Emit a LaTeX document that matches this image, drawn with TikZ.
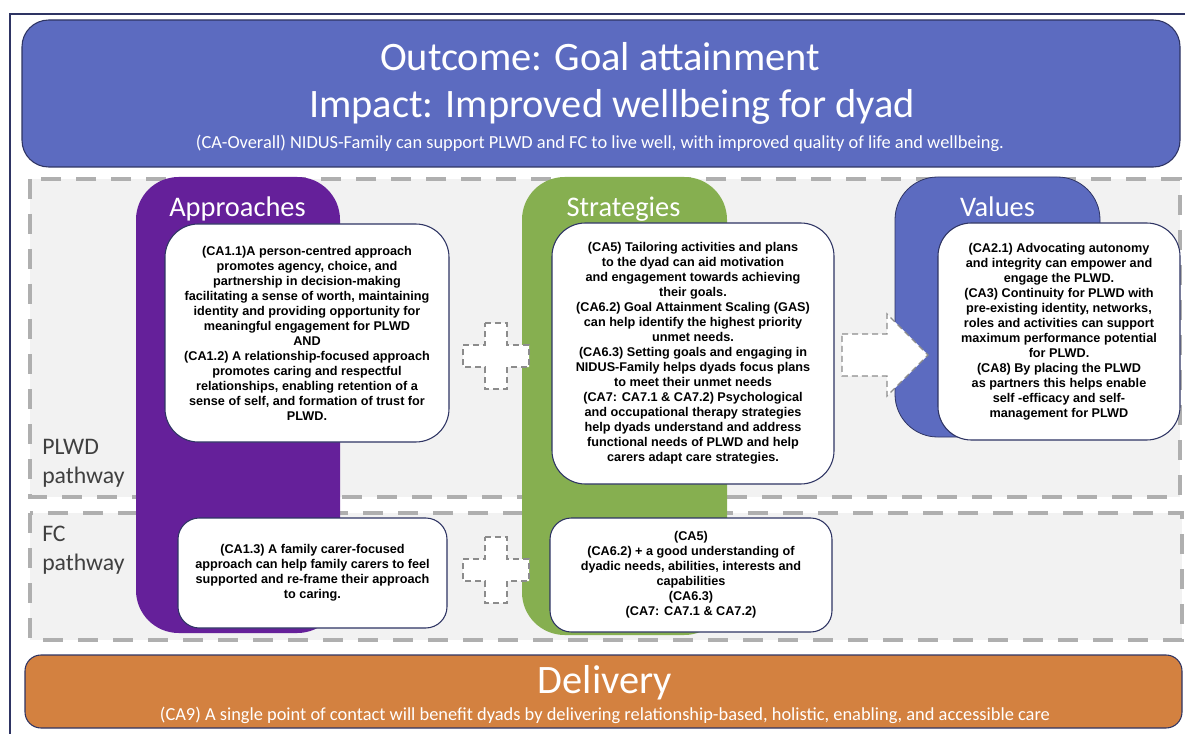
\documentclass[tikz,border=0pt]{standalone}
\usepackage{fontspec}
\setmainfont{Liberation Sans}
\newfontfamily\calfont{Carlito}
\definecolor{bannerblue}{HTML}{5C6BC0}
\definecolor{colpurple}{HTML}{65209A}
\definecolor{colgreen}{HTML}{86AF50}
\definecolor{colorange}{HTML}{D38140}
\definecolor{navyline}{HTML}{2E3463}
\definecolor{regionfill}{HTML}{F2F2F2}
\definecolor{dashgray}{HTML}{AFAFAF}
\definecolor{labelgray}{HTML}{404040}
\definecolor{shapegray}{HTML}{8C8C8C}
\newcommand\bodyfont{\bfseries\fontsize{9.5}{11.25}\selectfont}
\begin{document}
\begin{tikzpicture}[x=0.75pt,y=-0.75pt,
  region/.style={draw=dashgray, line width=3pt, dash pattern=on 15pt off 11.25pt, fill=regionfill},
  banner/.style={draw=navyline, line width=0.8pt, rounded corners=20pt, inner sep=0pt},
  column/.style={rounded corners=32pt, inner sep=0pt},
  tbox/.style={draw=navyline, line width=0.8pt, fill=white, rounded corners=25pt, align=center, font=\bodyfont, text=black, inner sep=0pt},
  fcbox/.style={tbox, rounded corners=16pt},
  heading/.style={text=white, anchor=base, inner sep=0pt, font=\calfont\fontsize{21.3}{25}\selectfont},
  bigtitle/.style={text=white, anchor=base, inner sep=0pt, font=\calfont\fontsize{30.3}{36}\selectfont},
  subtitle/.style={text=white, anchor=base, inner sep=0pt, font=\calfont\fontsize{13.8}{16}\selectfont},
  pathlabel/.style={text=labelgray, anchor=base west, inner sep=0pt, align=left, font=\calfont\fontsize{17.8}{21.5}\selectfont},
  dshape/.style={draw=shapegray, line width=1pt, dash pattern=on 4.5pt off 3pt, fill=white}
]
\useasboundingbox (0,0) rectangle (1185,734);
% outer frame
\draw[navyline, line width=0.8pt] (10,740) -- (10,14) -- (1190,14);

% top banner
\node[banner, fill=bannerblue, minimum width=868.5pt, minimum height=110.25pt] (top) at (601,93.5) {};
\node[bigtitle] (outcome) at (600,71) {Outcome: Goal attainment};
\node[bigtitle] (impact) at (612,118) {Impact: Improved wellbeing for dyad};
\node[subtitle] (overall) at (600,149) {(CA-Overall) NIDUS-Family can support PLWD and FC to live well, with improved quality of life and wellbeing.};

% pathway regions
\draw[region] (30,179) rectangle (1180,497);
\draw[region] (30,513) rectangle (1182,640);
\node[pathlabel] (plwd) at (42,483) {PLWD\\pathway};
\node[pathlabel] (fc) at (42,570) {FC\\pathway};

% columns
\node[column, fill=colpurple, minimum width=153pt, minimum height=342pt] (apcol) at (238,405) {};
\node[column, fill=colgreen, minimum width=153.75pt, minimum height=343.5pt] (stcol) at (624.5,406) {};
\node[column, fill=bannerblue, draw=navyline, line width=0.6pt, minimum width=153.75pt, minimum height=195pt] (vacol) at (997.5,307) {};
\node[heading] (aphead) at (237.5,217) {Approaches};
\node[heading] (sthead) at (623.5,217) {Strategies};
\node[heading] (vahead) at (997.5,217) {Values};

% plus signs
\begin{scope}[shift={(496,356)}]
\draw[dshape] (-11,-33) -- (11,-33) -- (11,-11) -- (33,-11) -- (33,11) -- (11,11) -- (11,33) -- (-11,33) -- (-11,11) -- (-33,11) -- (-33,-11) -- (-11,-11) -- cycle;
\end{scope}
\begin{scope}[shift={(496,570)}]
\draw[dshape] (-11,-33) -- (11,-33) -- (11,-11) -- (33,-11) -- (33,11) -- (11,11) -- (11,33) -- (-11,33) -- (-11,11) -- (-33,11) -- (-33,-11) -- (-11,-11) -- cycle;
\end{scope}
% arrow
\draw[dshape] (842,334) -- (887,334) -- (887,314) -- (928,355) -- (887,396) -- (887,376) -- (842,376) -- cycle;

% text boxes
\node[tbox, minimum width=213pt, minimum height=163.5pt] (apbox) at (307,333) {(CA1.1)A person-centred approach\\promotes agency, choice, and\\partnership in decision-making\\facilitating a sense of worth, maintaining\\identity and providing opportunity for\\meaningful engagement for PLWD\\AND\\(CA1.2) A relationship-focused approach\\promotes caring and respectful\\relationships, enabling retention of a\\sense of self, and formation of trust for\\PLWD.};
\node[tbox, minimum width=211.5pt, minimum height=195.75pt] (stbox) at (693,353.5) {(CA5) Tailoring activities and plans\\to the dyad can aid motivation\\and engagement towards achieving\\their goals.\\(CA6.2) Goal Attainment Scaling (GAS)\\can help identify the highest priority\\unmet needs.\\(CA6.3) Setting goals and engaging in\\NIDUS-Family helps dyads focus plans\\to meet their unmet needs\\(CA7: CA7.1 \& CA7.2) Psychological\\and occupational therapy strategies\\help dyads understand and address\\functional needs of PLWD and help\\carers adapt care strategies.};
\node[tbox, minimum width=181.5pt, minimum height=162.75pt] (vabox) at (1059,331.5) {(CA2.1) Advocating autonomy\\and integrity can empower and\\engage the PLWD.\\(CA3) Continuity for PLWD with\\pre-existing identity, networks,\\roles and activities can support\\maximum performance potential\\for PLWD.\\(CA8) By placing the PLWD\\as partners this helps enable\\self -efficacy and self-\\management for PLWD};
\node[fcbox, minimum width=201.75pt, minimum height=82.5pt] (apfc) at (312.5,573) {(CA1.3) A family carer-focused\\approach can help family carers to feel\\supported and re-frame their approach\\to caring.};
\node[fcbox, minimum width=211.5pt, minimum height=85.5pt] (stfc) at (691,575) {(CA5)\\(CA6.2) + a good understanding of\\dyadic needs, abilities, interests and\\capabilities\\(CA6.3)\\(CA7: CA7.1 \& CA7.2)};

% delivery banner
\node[banner, fill=colorange, rounded corners=12pt, minimum width=867.75pt, minimum height=54.75pt] (deliv) at (603.5,691.5) {};
\node[bigtitle] (delivtitle) at (605,693) {Delivery};
\node[subtitle] (ca9) at (605,720) {(CA9) A single point of contact will benefit dyads by delivering relationship-based, holistic, enabling, and accessible care};
\end{tikzpicture}
\end{document}
